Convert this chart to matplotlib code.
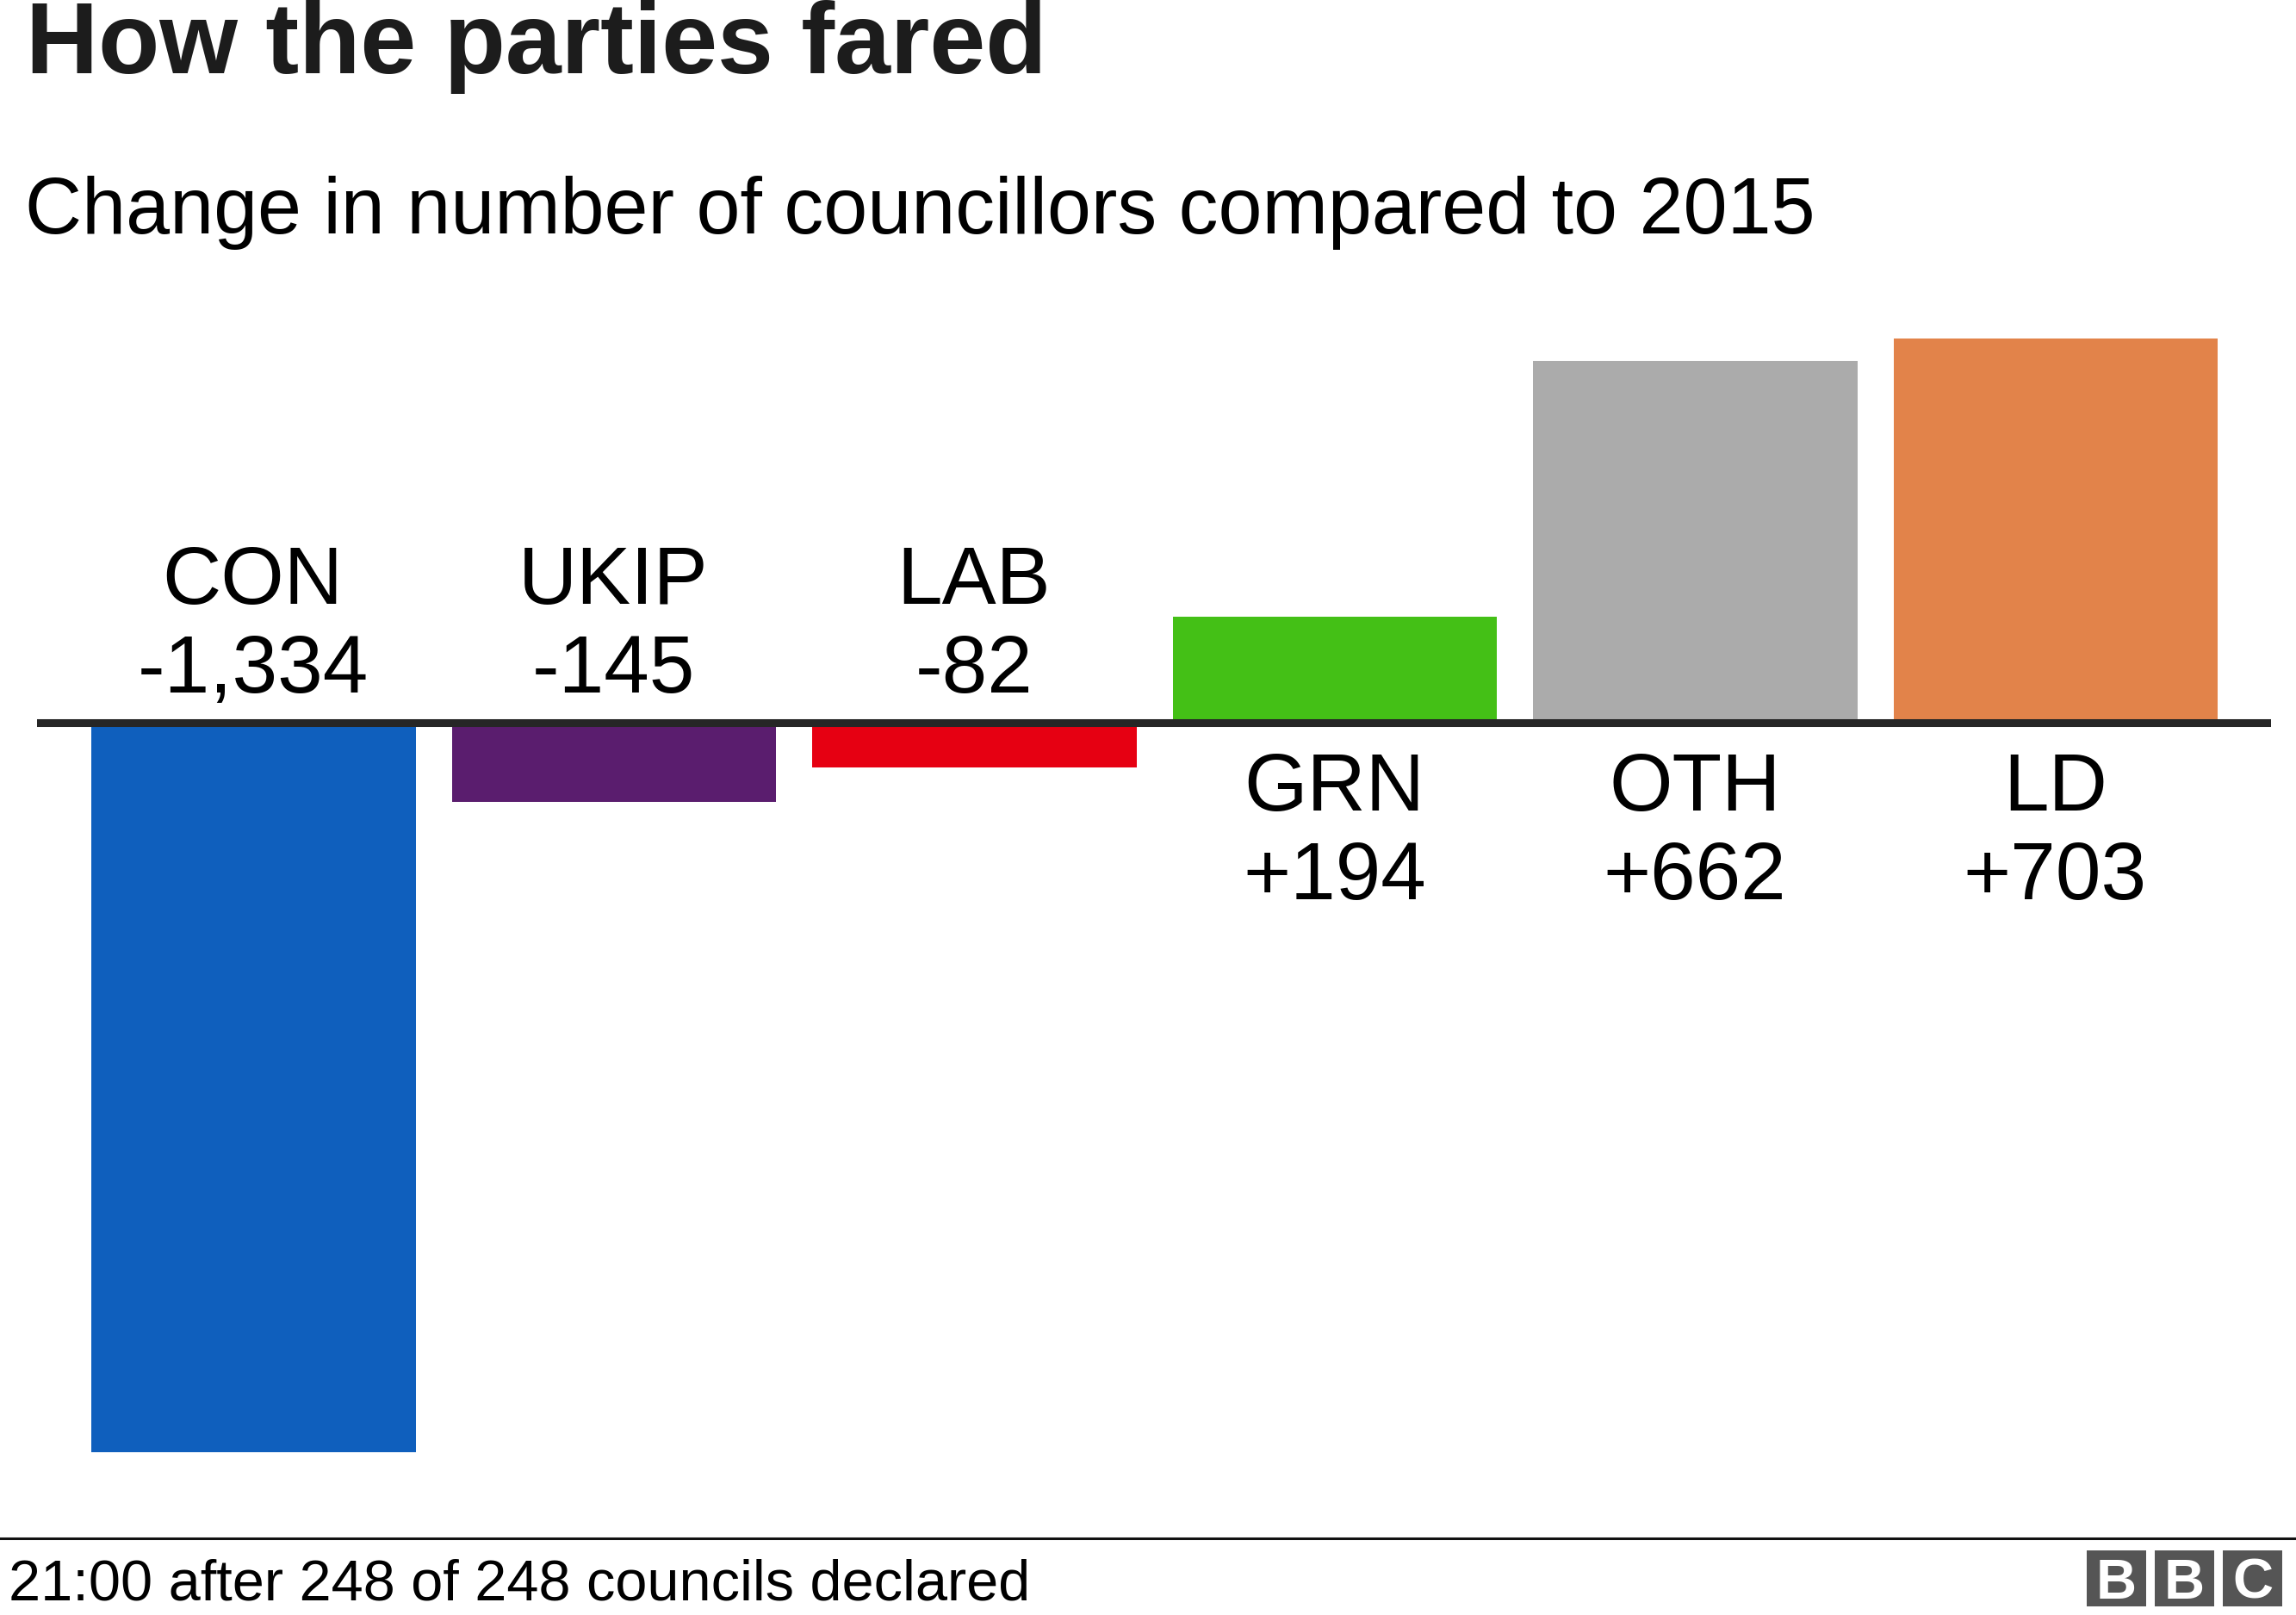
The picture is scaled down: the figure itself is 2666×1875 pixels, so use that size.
"""
How the parties fared - council election seat changes
"""

import matplotlib
matplotlib.use('Agg')
import matplotlib.pyplot as plt
from matplotlib.patches import Rectangle

# Data
parties = ['CON', 'UKIP', 'LAB', 'GRN', 'OTH', 'LD']
changes = [-1334, -145, -82, 194, 662, 703]
value_labels = ['-1,334', '-145', '-82', '+194', '+662', '+703']
colors = ['#0f5fbd', '#5a1d6e', '#e60012', '#44c016', '#ababab', '#e2834a']

title = 'How the parties fared'
subtitle = 'Change in number of councillors compared to 2015'
footer = '21:00 after 248 of 248 councils declared'

W, H = 2666, 1875
plt.rcParams['font.family'] = ['Liberation Sans', 'DejaVu Sans']

fig = plt.figure(figsize=(W / 100, H / 100), dpi=100)
fig.patch.set_facecolor('white')


def fx(px):
    return px / W


def fy(py):
    return 1 - py / H


# Axes placed so the baseline and bar extents land where they do in the reference
ax_left, ax_right = 43, 2637
ax_top, ax_bottom = 393, 1686
ax = fig.add_axes([fx(ax_left), fy(ax_bottom), (ax_right - ax_left) / W, (ax_bottom - ax_top) / H])
ax.set_xlim(-0.601, 5.597)
ax.set_ylim(min(changes), max(changes))
ax.axis('off')

ax.bar(range(len(parties)), changes, width=0.9, color=colors, zorder=2, clip_on=False)
ax.axhline(0, color='#262626', lw=6.5, zorder=3)

# Labels go above the baseline for losses, below it for gains
for i, (name, value, label) in enumerate(zip(parties, changes, value_labels)):
    if value < 0:
        name_off, label_off = 138, 35
    else:
        name_off, label_off = -102, -205
    ax.annotate(name, (i - 0.002, 0), xytext=(0, name_off), textcoords='offset pixels',
                ha='center', va='baseline', fontsize=68)
    ax.annotate(label, (i - 0.002, 0), xytext=(0, label_off), textcoords='offset pixels',
                ha='center', va='baseline', fontsize=68)

# Title block
fig.text(fx(30), fy(85), title, fontsize=84, fontweight='bold', color='#1c1c1c', ha='left', va='baseline')
fig.text(fx(29), fy(271), subtitle, fontsize=66, color='black', ha='left', va='baseline')

# Footer
fig.add_artist(plt.Line2D([0, 1], [fy(1786), fy(1786)], color='#111111', lw=2.2))
fig.text(fx(10), fy(1858), footer, fontsize=48, color='black', ha='left', va='baseline')

# BBC logo
for x0, letter in zip([2423, 2502, 2581], 'BBC'):
    fig.add_artist(Rectangle((fx(x0), fy(1865)), 69 / W, 65 / H, transform=fig.transFigure,
                             facecolor='#555555', edgecolor='none'))
    fig.text(fx(x0 + 34.5), fy(1856), letter, fontsize=47, fontweight='bold', color='white',
             ha='center', va='baseline')

fig.savefig('out.png', dpi=100)
